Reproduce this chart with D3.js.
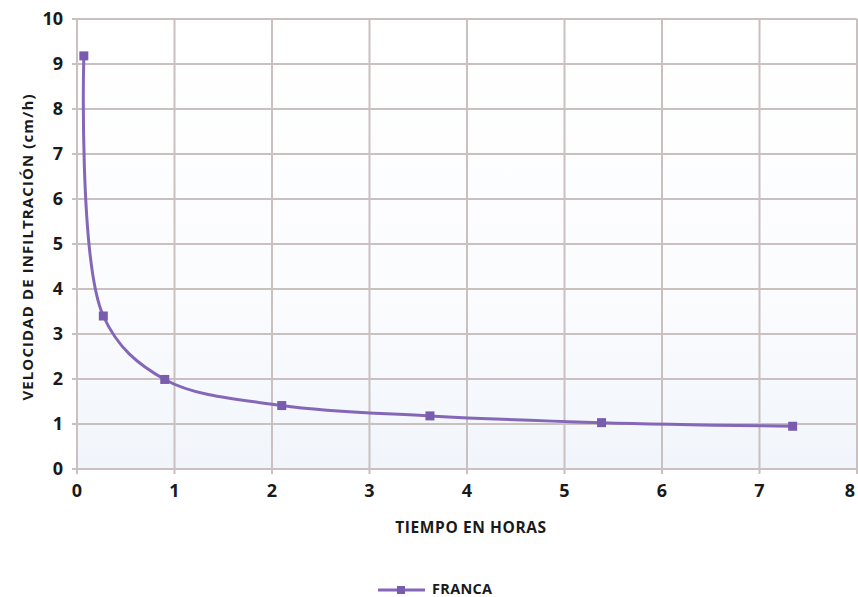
<!DOCTYPE html>
<html><head><meta charset="utf-8">
<script src="https://cdn.jsdelivr.net/npm/d3@7"></script>
<style>body{margin:0;background:#fff;}svg{display:block;font-family:"Open Sans",sans-serif;}</style>
</head><body><svg id="c" width="858" height="597"></svg>
<script>
const seriesName = "FRANCA";
const xValues = [0.07, 0.27, 0.9, 2.1, 3.62, 5.38, 7.34];
const yValues = [9.18, 3.4, 1.99, 1.41, 1.18, 1.03, 0.95];
const xTicks = [0,1,2,3,4,5,6,7,8];
const yTicks = [0,1,2,3,4,5,6,7,8,9,10];
const xTitle = "TIEMPO EN HORAS";
const yTitle = "VELOCIDAD DE INFILTRACIÓN (cm/h)";

const svg = d3.select("#c");
const x = d3.scaleLinear().domain([0,8]).range([77,857]);
const y = d3.scaleLinear().domain([0,10]).range([469,19]);
const col = "#8567b8";

const defs = svg.append("defs");
const g = defs.append("linearGradient").attr("id","bg").attr("x1",0).attr("y1",0).attr("x2",0).attr("y2",1);
g.append("stop").attr("offset","0%").attr("stop-color","#ffffff");
g.append("stop").attr("offset","60%").attr("stop-color","#fbfcfe");
g.append("stop").attr("offset","100%").attr("stop-color","#f1f5fb");
svg.append("rect").attr("x",x(0)).attr("y",y(10)).attr("width",x(8)-x(0)).attr("height",y(0)-y(10)).attr("fill","url(#bg)");

// gridlines
svg.append("g").selectAll("line").data(yTicks).join("line")
  .attr("x1",x(0)-5).attr("x2",x(8)).attr("y1",d=>y(d)).attr("y2",d=>y(d))
  .attr("stroke","#c9c0bf").attr("stroke-width",2);
svg.append("g").selectAll("line").data(xTicks).join("line")
  .attr("x1",d=>x(d)).attr("x2",d=>x(d)).attr("y1",y(10)).attr("y2",y(0)+5)
  .attr("stroke","#c9c0bf").attr("stroke-width",2);

// tick labels
svg.append("g").selectAll("text").data(yTicks).join("text")
  .attr("x",63).attr("y",d=>y(d)).attr("dy","0.36em").attr("text-anchor","end")
  .attr("font-size",18).attr("font-weight","bold").attr("fill","#1a1a1a").text(d=>d);
svg.append("g").selectAll("text").data(xTicks).join("text")
  .attr("x",d=>Math.min(x(d),850)).attr("y",497).attr("text-anchor","middle")
  .attr("font-size",18).attr("font-weight","bold").attr("fill","#1a1a1a").text(d=>d);

// titles
svg.append("text").attr("x",471).attr("y",533).attr("text-anchor","middle")
  .attr("font-size",15.5).attr("letter-spacing",0.6).attr("font-weight","bold").attr("fill","#1a1a1a").text(xTitle);
svg.append("text").attr("transform","translate(33,247) rotate(-90)").attr("text-anchor","middle")
  .attr("font-size",15).attr("letter-spacing",1.1).attr("font-weight","bold").attr("fill","#1a1a1a").text(yTitle);

// series
const pts = xValues.map((v,i)=>[v,yValues[i]]);
const line = d3.line().x(d=>x(d[0])).y(d=>y(d[1])).curve(d3.curveCatmullRom.alpha(0.5));
svg.append("path").attr("d",line(pts)).attr("fill","none").attr("stroke",col).attr("stroke-width",3);
svg.append("g").selectAll("rect").data(pts).join("rect")
  .attr("x",d=>x(d[0])-4.5).attr("y",d=>y(d[1])-4.5).attr("width",9).attr("height",9)
  .attr("fill","#7a5cae");

// legend
const lg = svg.append("g");
lg.append("line").attr("x1",378).attr("x2",425).attr("y1",590).attr("y2",590).attr("stroke",col).attr("stroke-width",3);
lg.append("rect").attr("x",397).attr("y",586).attr("width",8).attr("height",8).attr("fill","#7a5cae");
lg.append("text").attr("x",432).attr("y",594).attr("font-size",14.5).attr("letter-spacing",0.3).attr("font-weight","bold").attr("fill","#1a1a1a").text(seriesName);
</script></body></html>
